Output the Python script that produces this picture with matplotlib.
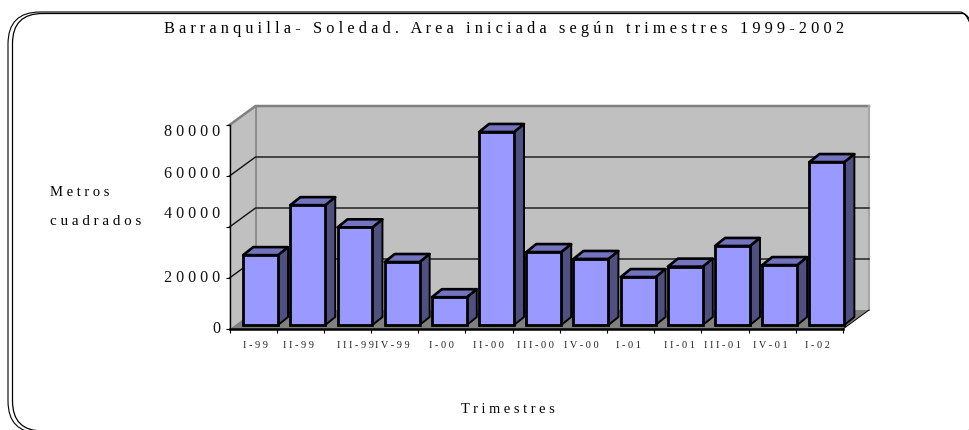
import numpy as np
import matplotlib
matplotlib.use("Agg")
import matplotlib.pyplot as plt
from matplotlib.patches import Polygon, FancyBboxPatch
from matplotlib.transforms import Affine2D, IdentityTransform

trimestres = ["I-99", "II-99", "III-99", "IV-99", "I-00", "II-00", "III-00",
              "IV-00", "I-01", "II-01", "III-01", "IV-01", "I-02"]
metros = [27400, 47000, 38300, 24700, 10900, 75700, 28600,
          25900, 18800, 22900, 31000, 23500, 63900]
y_ticks = [0, 20000, 40000, 60000, 80000]

# the labels in the source are not quite aligned with their ticks (pixels)
x_label_nudge = [2, -1.5, 8, -2, 0, -1, -1, -2.5, -2, 2, -2.5, -1.5, -2]
y_label_nudge = [-1, -1, -14, -2.5, 6]

W, H = 969, 431
DEPTH = (26, 19)       # back wall offset
BAR_OFF = (7.5, 4)     # bars stand a bit behind the front edge
BAR_DEPTH = (10, 8)
BAR_W = 0.74

FRONT = "#9999FF"
SIDE = "#4F4F80"
TOP = "#7373BF"
WALL = "#C0C0C0"
FLOOR = "#808080"

plt.rcParams["font.family"] = ["Liberation Serif", "DejaVu Serif"]


def spaced(s):
    return " ".join(s)


fig = plt.figure(figsize=(W / 100, H / 100), dpi=100)
ax = fig.add_axes([229.5 / W, (H - 330) / H, 613.5 / W, 204 / H])
ax.set_xlim(0, len(metros))
ax.set_ylim(0, 80000)
ax.patch.set_visible(False)
for s in ["top", "right"]:
    ax.spines[s].set_visible(False)
ax.spines["left"].set_linewidth(1.0)
ax.spines["bottom"].set_linewidth(1.8)
ax.set_xticks(np.arange(len(metros) + 1))
ax.set_yticks(y_ticks)
ax.set_xticklabels([])
ax.set_yticklabels([])
ax.tick_params(length=3, width=0.8)
disp = IdentityTransform()


def px(x, v, off=(0, 0)):
    p = ax.transData.transform((x, v))
    return (p[0] + off[0], p[1] + off[1])


n = len(metros)
top = y_ticks[-1]

# walls and floor
ax.add_patch(Polygon([px(0, 0), px(0, top), px(0, top, DEPTH), px(0, 0, DEPTH)],
                     transform=disp, fc=WALL, ec="none", zorder=0.5, clip_on=False))
ax.add_patch(Polygon([px(0, 0, DEPTH), px(0, top, DEPTH), px(n, top, DEPTH), px(n, 0, DEPTH)],
                     transform=disp, fc=WALL, ec="none", zorder=0.6, clip_on=False))
ax.add_patch(Polygon([px(0, 0), px(n, 0), px(n, 0, DEPTH), px(0, 0, DEPTH)],
                     transform=disp, fc=FLOOR, ec="none", zorder=0.7, clip_on=False))
edge = [px(0, top), px(0, top, DEPTH), px(n, top, DEPTH)]
ax.plot(*zip(*edge), transform=disp, color="#808080", lw=1.8, zorder=0.8, clip_on=False)
ax.plot(*zip(px(0, top, DEPTH), px(0, 0, DEPTH)), transform=disp, color="#808080", lw=1.2,
        zorder=0.8, clip_on=False)
ax.plot(*zip(px(n, top, DEPTH), px(n, 0, DEPTH)), transform=disp, color="#A6A6A6", lw=1.5,
        zorder=0.8, clip_on=False)
ax.plot(*zip(px(n, 0), px(n, 0, DEPTH)), transform=disp, color="black", lw=0.7,
        zorder=0.8, clip_on=False)

# gridlines run along the side wall and the back wall
for v in y_ticks[1:-1]:
    pts = [px(0, v), px(0, v, DEPTH), px(n, v, DEPTH)]
    ax.plot(*zip(*pts), transform=disp, color="#111111", lw=1.0, zorder=0.9, clip_on=False)

# bars
centers = np.arange(n) + 0.5
ax.bar(centers, metros, BAR_W, color=FRONT, edgecolor="black", linewidth=2.0, zorder=3,
       clip_on=False, transform=ax.transData + Affine2D().translate(*BAR_OFF))
for c, v in zip(centers, metros):
    x0, x1 = c - BAR_W / 2, c + BAR_W / 2
    a = px(x0, v, BAR_OFF)
    b = px(x1, v, BAR_OFF)
    d = px(x1, 0, BAR_OFF)
    sh = lambda p: (p[0] + BAR_DEPTH[0], p[1] + BAR_DEPTH[1])
    ax.add_patch(Polygon([b, d, sh(d), sh(b)], transform=disp, fc=SIDE, ec="black",
                         lw=1.4, zorder=2.8, clip_on=False, joinstyle="round"))
    ax.add_patch(Polygon([a, b, sh(b), sh(a)], transform=disp, fc=TOP, ec="black",
                         lw=1.9, zorder=2.8, clip_on=False, joinstyle="round"))

# tick labels
for c, lab, dx in zip(centers, trimestres, x_label_nudge):
    xp, _ = px(c, 0)
    ax.text(xp + dx, H - 346, spaced(lab), transform=disp, ha="center", va="center",
            fontsize=7.4, color="#222222", clip_on=False)
for v, dy in zip(y_ticks, y_label_nudge):
    _, yp = px(0, v)
    ax.text(220.5, yp - dy, spaced(str(v)), transform=disp, ha="right", va="center",
            fontsize=11.6, color="#111111", clip_on=False)

# titles
fig.text(504.5 / W, (H - 29) / H, spaced("Barranquilla- Soledad. Area iniciada según trimestres 1999-2002"),
         ha="center", va="center", fontsize=11.8)
fig.text(50 / W, (H - 193) / H, spaced("Metros"), ha="left", va="center", fontsize=10.5)
fig.text(50 / W, (H - 222) / H, spaced("cuadrados"), ha="left", va="center", fontsize=10.8)
fig.text(508 / W, (H - 410) / H, spaced("Trimestres"), ha="center", va="center", fontsize=10.4)

# rounded double frame, runs off the right and bottom of the picture
fig.add_artist(FancyBboxPatch((8, -3), 984, H - 13 + 3, boxstyle="round,pad=0,rounding_size=32",
                              transform=disp, fc="none", ec="black", lw=0.8))
fig.add_artist(FancyBboxPatch((12.5, -1), 980, H - 14.5 + 1, boxstyle="round,pad=0,rounding_size=30",
                              transform=disp, fc="none", ec="black", lw=0.9))

fig.savefig("out.png", dpi=100)
